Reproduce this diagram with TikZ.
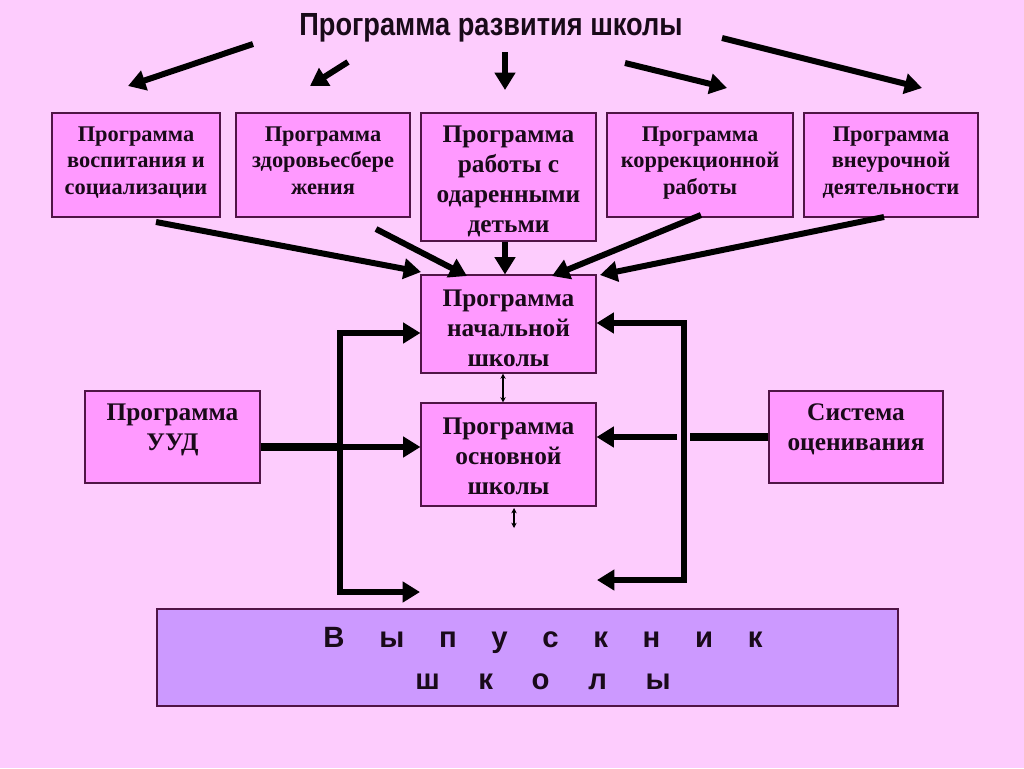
\documentclass[tikz,border=0pt]{standalone}
\usepackage{fontspec}
\setmainfont{Liberation Serif}
\newfontfamily\titlefont[FakeStretch=0.85]{Liberation Sans}
\newfontfamily\gradfont{Liberation Sans}
\usetikzlibrary{arrows.meta}
\definecolor{bgpink}{RGB}{253,204,253}
\definecolor{boxpink}{RGB}{255,153,255}
\definecolor{boxline}{RGB}{80,20,70}
\definecolor{lav}{RGB}{204,153,255}
\definecolor{ink}{RGB}{25,10,25}
\tikzset{
  box/.style={draw=boxline, line width=0.8pt, fill=boxpink, align=center, inner sep=1pt,
    text=ink, font=\bfseries\fontsize{16.8}{19.6}\selectfont, text height=43.5pt, text depth=0pt},
  bigbox/.style={box, font=\bfseries\fontsize{19}{22.5}\selectfont},
  fat/.style={line width=4.5pt, draw=black, -{Triangle[length=13pt,width=15pt]}},
  bar/.style={line width=4.5pt, draw=black, line cap=rect},
  thin2/.style={line width=1pt, draw=black, {Stealth[length=4pt,width=4pt]}-{Stealth[length=4pt,width=4pt]}}
}
\begin{document}
\begin{tikzpicture}[x=0.75pt,y=-0.75pt]
\fill[bgpink] (0,0) rectangle (1024,768);
\useasboundingbox (0,0) rectangle (1024,768);

\node[text=ink, font=\titlefont\bfseries\fontsize{24}{28}\selectfont] (title) at (491,28) {Программа развития школы};

\node[box, minimum width=126pt, minimum height=78pt] (b1) at (136,165) {Программа\\воспитания и\\социализации};
\node[box, minimum width=130.5pt, minimum height=78pt] (b2) at (323,165) {Программа\\здоровьесбере\\жения};
\node[bigbox, minimum width=131.25pt, minimum height=96pt, text height=82.5pt] (b3) at (508.5,177) {Программа\\работы с\\одаренными\\детьми};
\node[box, minimum width=139.5pt, minimum height=78pt] (b4) at (700,165) {Программа\\коррекционной\\работы};
\node[box, minimum width=130.5pt, minimum height=78pt] (b5) at (891,165) {Программа\\внеурочной\\деятельности};

\node[bigbox, minimum width=131.25pt, minimum height=73.5pt, text height=64pt] (nach) at (508.5,324) {Программа\\начальной\\школы};
\node[bigbox, minimum width=131.25pt, minimum height=77.25pt, text height=59.25pt] (osn) at (508.5,454.5) {Программа\\основной\\школы};
\node[bigbox, minimum width=131.25pt, minimum height=69pt, text height=19.5pt] (uud) at (172.5,437) {Программа\\УУД};
\node[bigbox, minimum width=130.5pt, minimum height=69pt, text height=19.5pt] (sist) at (856,437) {Система\\оценивания};

\node[draw=boxline, line width=0.8pt, fill=lav, minimum width=555.75pt, minimum height=72.75pt] (grad) at (527.5,657.5) {};
\node[text=ink, align=center, font=\gradfont\bfseries\fontsize{22}{31.5}\selectfont] (gradtext) at (543,659)
  {\spaceskip=26pt В ы п у с к н и к\\\spaceskip=29pt ш к о л ы};

% arrows from title
\coordinate (t1) at (253,44); \coordinate (e1) at (128,86);
\coordinate (t2) at (348,62); \coordinate (e2) at (310,86);
\coordinate (t3) at (505,52); \coordinate (e3) at (505,90);
\coordinate (t4) at (625,63); \coordinate (e4) at (727,88);
\coordinate (t5) at (722,38); \coordinate (e5) at (922,88);
\draw[fat] (t1) -- (e1);
\draw[fat] (t2) -- (e2);
\draw[fat] (t3) -- (e3);
\draw[fat] (t4) -- (e4);
\draw[fat] (t5) -- (e5);

% arrows into начальной школы
\coordinate (s1) at (156,222); \coordinate (n1) at (421,272);
\coordinate (s2) at (376,229); \coordinate (n2) at (467,276);
\coordinate (s4) at (701,215); \coordinate (n4) at (552,276);
\coordinate (s5) at (884,217); \coordinate (n5) at (600,275);
\draw[fat] (s1) -- (n1);
\draw[fat] (s2) -- (n2);
\draw[fat] (b3.south -| 505,0) -- (nach.north -| 505,0);
\draw[fat] (s4) -- (n4);
\draw[fat] (s5) -- (n5);

% left system
\coordinate (lj) at (340,447);
\coordinate (lt) at (340,333);
\coordinate (lb) at (340,592);
\coordinate (le) at (420,592);
\draw[line width=6.5pt, draw=black] (uud.east |- lj) -- (lj);
\draw[bar] (lt) -- (lb);
\draw[fat] (lt) -- (nach.west |- lt);
\draw[fat] (lj) -- (osn.west |- lj);
\draw[fat] (lb) -- (le);

% right system
\coordinate (rj) at (684,437);
\coordinate (rg) at (677,437);
\coordinate (rt) at (684,323);
\coordinate (rb) at (684,580);
\coordinate (re) at (597,580);
\draw[line width=5.5pt, draw=black] (sist.west |- rj) -- (690,437);
\draw[bar] (rt) -- (rb);
\draw[fat] (rt) -- (nach.east |- rt);
\draw[fat] (rg) -- (osn.east |- rg);
\draw[fat] (rb) -- (re);

% small double arrows
\coordinate (d1) at (514,508); \coordinate (d2) at (514,528);
\draw[thin2] (nach.south -| 503,0) -- (osn.north -| 503,0);
\draw[thin2] (d1) -- (d2);
\end{tikzpicture}
\end{document}
